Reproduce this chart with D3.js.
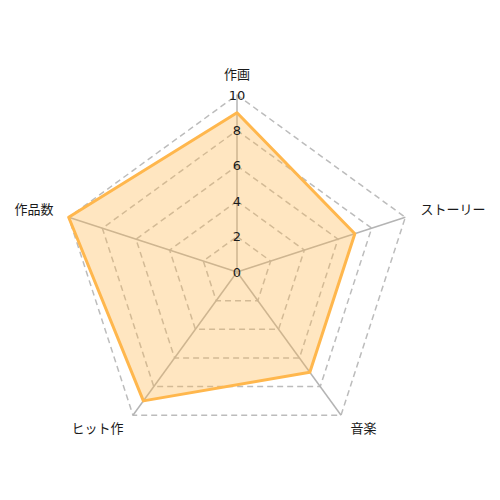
<!DOCTYPE html>
<html>
<head>
<meta charset="utf-8">
<script src="https://cdn.jsdelivr.net/npm/d3@7"></script>
<style>
  body { margin: 0; background: #fff; }
  text { font-family: "DejaVu Sans", "Noto Sans CJK JP", sans-serif; font-size: 13px; fill: #1a1a1a; }
</style>
</head>
<body>
<div id="chart"></div>
<script>
// axes go clockwise from the top
var categories = ["作画", "ストーリー", "音楽", "ヒット作", "作品数"];
var values = [9, 7, 7, 9, 10];
var levels = [2, 4, 6, 8, 10];
var tickLabels = [0, 2, 4, 6, 8, 10];

var width = 500, height = 500,
    cx = 237, cy = 272, radius = 177;

var r = d3.scaleLinear().domain([0, 10]).range([0, radius]);

var angle = d3.scaleLinear()
    .domain([0, categories.length])
    .range([0, 2 * Math.PI]);

function point(i, v) {
    var a = angle(i);
    return [Math.sin(a) * r(v), -Math.cos(a) * r(v)];
}

var svg = d3.select("#chart").append("svg")
    .attr("width", width)
    .attr("height", height)
    .append("g")
    .attr("transform", "translate(" + cx + "," + cy + ")");

var polyLine = d3.line().curve(d3.curveLinearClosed);

// grid rings
svg.selectAll(".ring")
    .data(levels)
    .enter().append("path")
    .attr("class", "ring")
    .attr("d", function(lv) { return polyLine(categories.map(function(c, i) { return point(i, lv); })); })
    .attr("fill", "none")
    .attr("stroke", "#bcbcbc")
    .attr("stroke-width", 1.5)
    .attr("stroke-dasharray", "6,4");

// spokes
svg.selectAll(".spoke")
    .data(categories)
    .enter().append("line")
    .attr("class", "spoke")
    .attr("x1", 0).attr("y1", 0)
    .attr("x2", function(c, i) { return point(i, 10)[0]; })
    .attr("y2", function(c, i) { return point(i, 10)[1]; })
    .attr("stroke", "#b4b4b4")
    .attr("stroke-width", 1.5);

// data area
svg.append("path")
    .datum(values)
    .attr("d", function(d) { return polyLine(d.map(function(v, i) { return point(i, v); })); })
    .attr("fill", "rgba(255,183,77,0.35)")
    .attr("stroke", "#ffb74d")
    .attr("stroke-width", 3)
    .attr("stroke-linejoin", "round");

// tick labels along the top axis
svg.selectAll(".tick")
    .data(tickLabels)
    .enter().append("text")
    .attr("class", "tick")
    .attr("x", 0)
    .attr("y", function(t) { return -r(t); })
    .attr("dy", "0.36em")
    .attr("text-anchor", "middle")
    .text(function(t) { return t; });

// axis names
svg.selectAll(".axis-name")
    .data(categories)
    .enter().append("text")
    .attr("class", "axis-name")
    .attr("x", function(c, i) { return Math.sin(angle(i)) * (radius + 16); })
    .attr("y", function(c, i) { return -Math.cos(angle(i)) * (radius + 19) - 2; })
    .attr("dy", "0.36em")
    .attr("text-anchor", function(c, i) {
        var s = Math.sin(angle(i));
        return Math.abs(s) < 0.01 ? "middle" : (s > 0 ? "start" : "end");
    })
    .text(function(c) { return c; });
</script>
</body>
</html>
